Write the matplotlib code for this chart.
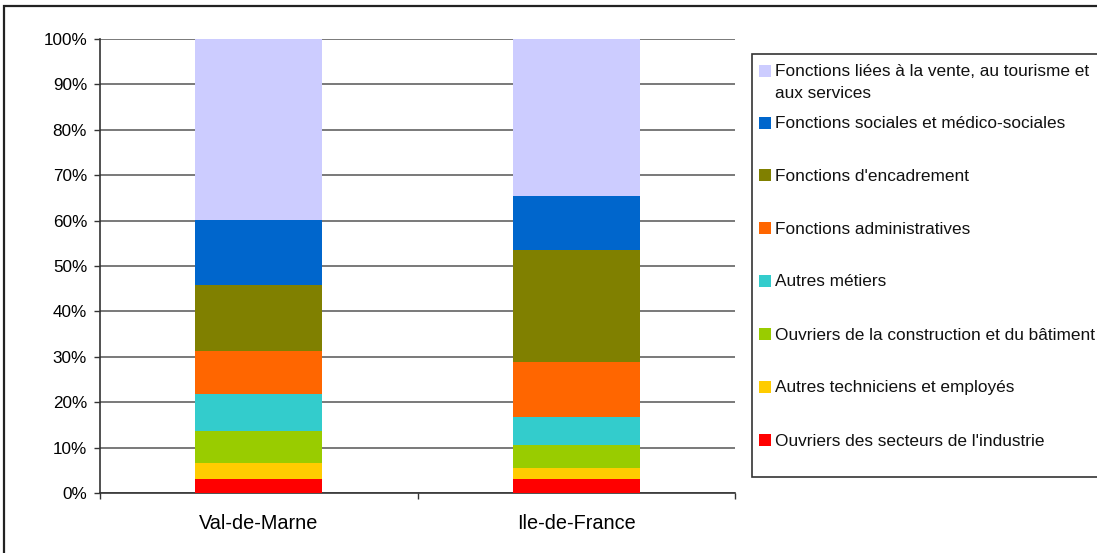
import numpy as np
import matplotlib.pyplot as plt
from matplotlib import rcParams, patches

rcParams['font.family'] = ['Liberation Sans', 'DejaVu Sans']
rcParams['font.size'] = 12

# Données (parts en %, de bas en haut)
territoires = ['Val-de-Marne', 'Ile-de-France']
familles = [
    "Ouvriers des secteurs de l'industrie",
    "Autres techniciens et employés",
    "Ouvriers de la construction et du bâtiment",
    "Autres métiers",
    "Fonctions administratives",
    "Fonctions d'encadrement",
    "Fonctions sociales et médico-sociales",
    "Fonctions liées à la vente, au tourisme et\naux services",
]
val_de_marne = [3.1, 3.5, 7.1, 8.2, 9.4, 14.5, 14.3, 39.9]
ile_de_france = [3.1, 2.5, 5.0, 6.1, 12.2, 24.7, 11.8, 34.6]
couleurs = ['#FF0000', '#FFCC00', '#99CC00', '#33CCCC',
            '#FF6600', '#808000', '#0066CC', '#CCCCFF']

W, H = 1097, 553
fig = plt.figure(figsize=(W / 100, H / 100), dpi=100)
fig.patch.set_facecolor('white')

def fx(px):
    return px / W

def fy(py):
    return 1 - py / H

ax = fig.add_axes([fx(100), fy(493), fx(735) - fx(100), fy(39) - fy(493)])

# Barres empilées
valeurs = np.array([val_de_marne, ile_de_france])
x = np.arange(len(territoires))
bas = np.zeros(len(territoires))
for i, c in enumerate(couleurs):
    ax.bar(x, valeurs[:, i], bottom=bas, width=0.4, color=c, zorder=3, linewidth=0)
    bas += valeurs[:, i]

ax.set_xlim(-0.5, 1.5)
ax.set_ylim(0, 100)
ax.set_yticks(np.arange(0, 101, 10))
ax.set_yticklabels([f'{v}%' for v in range(0, 101, 10)])
ax.yaxis.grid(True, color='#555555', linewidth=1.1, zorder=0)

# ticks x aux frontières des catégories, labels au centre
ax.set_xticks([-0.5, 0.5, 1.5])
ax.set_xticklabels([])
ax.set_xticks(x, minor=True)
ax.set_xticklabels(territoires, minor=True)
ax.tick_params(axis='x', which='minor', length=0, pad=15, labelsize=14.3)
ax.tick_params(axis='x', which='major', length=4.3, width=1, color='#333333')
ax.tick_params(axis='y', length=4.3, width=1, color='#333333', pad=5, labelsize=12.3)

for s in ['top', 'right']:
    ax.spines[s].set_visible(False)
for s in ['left', 'bottom']:
    ax.spines[s].set_color('#333333')
    ax.spines[s].set_linewidth(1.2)

# Cadre du graphique
fig.add_artist(patches.Rectangle((fx(4), fy(560)), fx(1200), fy(6) - fy(560),
                                 transform=fig.transFigure, fill=False,
                                 edgecolor='#222222', linewidth=1.6))

# Légende dessinée à la main
fig.add_artist(patches.Rectangle((fx(752), fy(477)), fx(400), fy(54) - fy(477),
                                 transform=fig.transFigure, fill=True,
                                 facecolor='white', edgecolor='#333333',
                                 linewidth=1.2))
y_legende = [70.7, 122.7, 175.3, 228, 280.7, 333.8, 386.7, 440]
for k, (lab, c) in enumerate(zip(familles[::-1], couleurs[::-1])):
    yc = y_legende[k]
    fig.add_artist(patches.Rectangle((fx(759), fy(yc + 6)), fx(12), fy(yc - 6) - fy(yc + 6),
                                     transform=fig.transFigure, facecolor=c,
                                     edgecolor='none'))
    fig.text(fx(775), fy(yc - 6.3), lab, ha='left', va='top', fontsize=12.4,
             linespacing=1.55, color='#111111')

fig.savefig('out.png', dpi=100, facecolor='white')
